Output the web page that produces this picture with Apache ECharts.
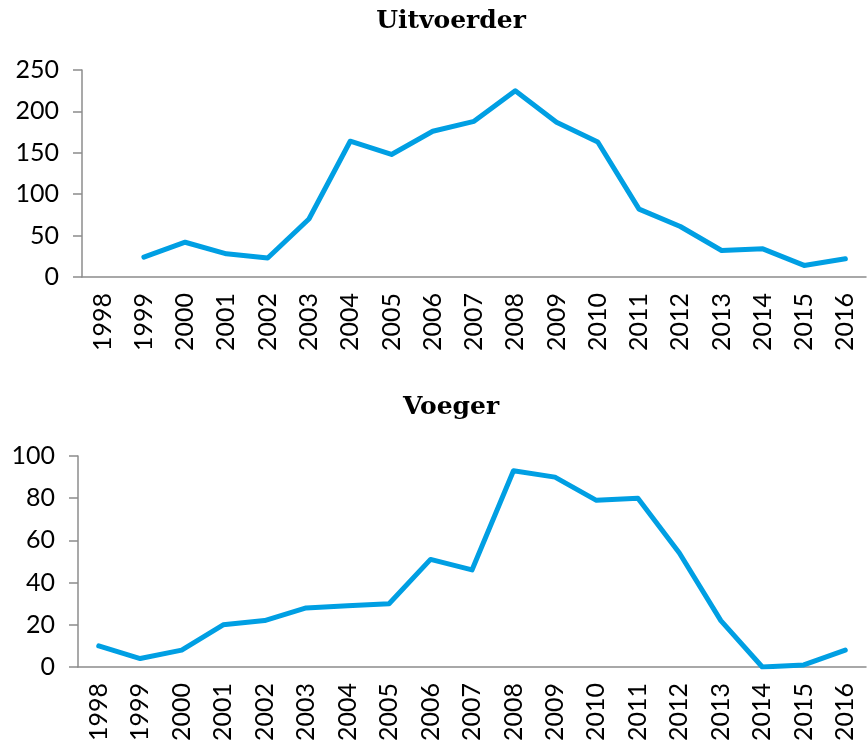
<!DOCTYPE html>
<html>
<head>
<meta charset="utf-8">
<script src="https://cdn.jsdelivr.net/npm/echarts@6/dist/echarts.min.js"></script>
<style>
  html, body { margin: 0; padding: 0; background: #fff; }
  #chart { width: 868px; height: 751px; }
</style>
</head>
<body>
<div id="chart"></div>
<script>
// jaren op de x-as
const years = ['1998', '1999', '2000', '2001', '2002', '2003', '2004', '2005', '2006', '2007',
  '2008', '2009', '2010', '2011', '2012', '2013', '2014', '2015', '2016'];
// Uitvoerder (geen waarde voor 1998)
const uitvoerder = [null, 24, 42, 28, 23, 70, 164, 148, 176, 188, 225, 187, 163, 82, 61, 32, 34, 14, 22];
// Voeger
const voeger = [10, 4, 8, 20, 22, 28, 29, 30, 51, 46, 93, 90, 79, 80, 54, 22, 0, 1, 8];

const lineColor = '#009fe3';
const axisGray = '#8c8c8c';
const labelFont = 'Lato, "Open Sans", sans-serif';

function xAxis(gridIndex) {
  return {
    type: 'category',
    gridIndex: gridIndex,
    data: years,
    boundaryGap: true,
    axisLine: { lineStyle: { color: axisGray, width: 1.5 } },
    axisTick: { alignWithLabel: false, length: 9, lineStyle: { color: axisGray, width: 1.5 } },
    axisLabel: { rotate: 90, color: '#000', fontSize: 25, fontFamily: labelFont, margin: 16, interval: 0 }
  };
}

function yAxis(gridIndex, max, interval) {
  return {
    type: 'value',
    gridIndex: gridIndex,
    min: 0,
    max: max,
    interval: interval,
    splitLine: { show: false },
    axisLine: { show: true, lineStyle: { color: axisGray, width: 1.5 } },
    axisTick: { show: true, length: 9, lineStyle: { color: axisGray, width: 1.5 } },
    axisLabel: { color: '#000', fontSize: 25, fontFamily: labelFont, margin: 23 }
  };
}

let charts = echarts.init(document.getElementById('chart'));
charts.setOption({
  animation: false,
  title: [{
    text: 'Uitvoerder',
    left: 446,
    top: 4,
    textAlign: 'center',
    textStyle: { color: '#000', fontSize: 25, fontWeight: 'bold', fontFamily: '"DejaVu Serif", serif' }
  }, {
    text: 'Voeger',
    left: 446,
    top: 390,
    textAlign: 'center',
    textStyle: { color: '#000', fontSize: 25, fontWeight: 'bold', fontFamily: '"DejaVu Serif", serif' }
  }],
  grid: [
    { left: 82, top: 70, width: 784, height: 207 },
    { left: 78, top: 456, width: 788, height: 211 }
  ],
  xAxis: [xAxis(0), xAxis(1)],
  yAxis: [yAxis(0, 250, 50), yAxis(1, 100, 20)],
  series: [{
    name: 'Uitvoerder',
    type: 'line',
    xAxisIndex: 0,
    yAxisIndex: 0,
    data: uitvoerder,
    showSymbol: false,
    lineStyle: { color: lineColor, width: 5, cap: 'round', join: 'round' }
  }, {
    name: 'Voeger',
    type: 'line',
    xAxisIndex: 1,
    yAxisIndex: 1,
    data: voeger,
    showSymbol: false,
    lineStyle: { color: lineColor, width: 5, cap: 'round', join: 'round' }
  }]
});
</script>
</body>
</html>
